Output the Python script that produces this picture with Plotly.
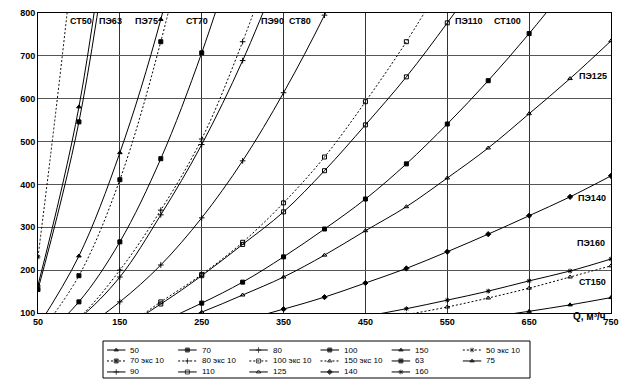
import plotly.graph_objects as go

# ---- data (Q, m3/h  ->  head loss) ----
q_st50 = [50, 100, 150]
h_st50 = [165, 581, 1250]
q_st70 = [50, 100, 150, 200, 250, 300]
h_st70 = [33, 126, 266, 460, 707, 1000]
q_st80 = [50, 100, 150, 200, 250, 300, 350, 400, 450]
h_st80 = [15, 58, 126, 212, 322, 455, 614, 795, 1000]
q_st100 = [150, 200, 250, 300, 350, 400, 450, 500, 550, 600, 650, 700]
h_st100 = [46, 80, 123, 172, 231, 296, 366, 448, 541, 642, 752, 870]
q_st150 = [550, 600, 650, 700, 750]
h_st150 = [77, 90, 104, 119, 136]
q_st50e = [50, 100, 150]
h_st50e = [231, 1070, 2400]
q_st70e = [50, 100, 150, 200, 250]
h_st70e = [48, 187, 411, 733, 1140]
q_st80e = [50, 100, 150, 200, 250, 300, 350]
h_st80e = [22, 89, 200, 340, 506, 733, 1000]
q_st100e = [100, 150, 200, 250, 300, 350, 400, 450, 500, 550]
h_st100e = [25, 62, 126, 190, 265, 357, 464, 593, 733, 890]
q_st150e = [450, 500, 550, 600, 650, 700, 750]
h_st150e = [79, 96, 114, 135, 158, 184, 210]
q_pe63 = [50, 100, 150]
h_pe63 = [155, 546, 1160]
q_pe75 = [50, 100, 150, 200, 250]
h_pe75 = [69, 233, 474, 785, 1190]
q_pe90 = [50, 100, 150, 200, 250, 300, 350]
h_pe90 = [24, 87, 184, 329, 493, 689, 920]
q_pe110 = [100, 150, 200, 250, 300, 350, 400, 450, 500, 550, 600]
h_pe110 = [27, 63, 121, 187, 260, 336, 432, 539, 651, 777, 910]
q_pe125 = [150, 200, 250, 300, 350, 400, 450, 500, 550, 600, 650, 700, 750]
h_pe125 = [40, 68, 102, 142, 184, 235, 292, 348, 415, 485, 565, 647, 735]
q_pe140 = [250, 300, 350, 400, 450, 500, 550, 600, 650, 700, 750]
h_pe140 = [60, 83, 109, 137, 170, 204, 243, 284, 327, 371, 420]
q_pe160 = [400, 450, 500, 550, 600, 650, 700, 750]
h_pe160 = [73, 92, 110, 130, 151, 175, 198, 226]

x_ticks = [50, 150, 250, 350, 450, 550, 650, 750]
y_ticks = [100, 200, 300, 400, 500, 600, 700, 800]

DOT = "2px,2px"
# legend order: name, q, h, dash, symbol
series = [
    ("50", q_st50, h_st50, "solid", "triangle-up"),
    ("70", q_st70, h_st70, "solid", "square"),
    ("80", q_st80, h_st80, "solid", "cross-thin"),
    ("100", q_st100, h_st100, "solid", "square"),
    ("150", q_st150, h_st150, "solid", "triangle-up"),
    ("50 экс 10", q_st50e, h_st50e, DOT, "asterisk"),
    ("70 экс 10", q_st70e, h_st70e, DOT, "square"),
    ("80 экс 10", q_st80e, h_st80e, DOT, "cross-thin"),
    ("100 экс 10", q_st100e, h_st100e, DOT, "square-open"),
    ("150 экс 10", q_st150e, h_st150e, DOT, "triangle-up-open"),
    ("63", q_pe63, h_pe63, "solid", "square"),
    ("75", q_pe75, h_pe75, "solid", "triangle-up"),
    ("90", q_pe90, h_pe90, "solid", "cross-thin"),
    ("110", q_pe110, h_pe110, "solid", "square-open"),
    ("125", q_pe125, h_pe125, "solid", "triangle-up-open"),
    ("140", q_pe140, h_pe140, "solid", "diamond"),
    ("160", q_pe160, h_pe160, "solid", "asterisk"),
]

curve_labels = [
    ("СТ50", 103, 782), ("ПЭ63", 138, 782), ("ПЭ75", 183, 782), ("СТ70", 244, 782),
    ("ПЭ90", 337, 782), ("СТ80", 370, 782), ("ПЭ110", 576, 782), ("СТ100", 624, 782),
    ("ПЭ125", 728, 654), ("ПЭ140", 727, 369), ("ПЭ160", 726, 263), ("СТ150", 728, 172),
]

FONT = "Liberation Sans, Arial, sans-serif"
OFF = 8  # page body margin of the browser
W, H = 638 - OFF, 386 - OFF
ML, MR, MT, MB = 38 - OFF, 27, 13 - OFF, 8
PW, PH = W - ML - MR, H - MT - MB


def px_x(p):  # p: pixel in the 638x386 window
    return (p - OFF - ML) / PW


def px_y(p):
    return (H - MB - (p - OFF)) / PH


fig = go.Figure()
for name, q, h, dash, sym in series:
    fig.add_trace(go.Scatter(
        x=q, y=h, name=name, mode="lines+markers", showlegend=False,
        line=dict(color="black", width=1, dash=dash, shape="spline", smoothing=1.0),
        marker=dict(symbol=sym, size=4, color="black", line=dict(color="black", width=1)),
        xaxis="x", yaxis="y",
    ))

# custom legend (6 columns x 3 rows) drawn in an auxiliary hidden subplot
row_y = [2.27, 1.38, 0.49]
for i, (name, q, h, dash, sym) in enumerate(series):
    c, r = i % 6, i // 6
    x0 = c + 0.056
    fig.add_trace(go.Scatter(
        x=[x0, x0 + 0.13, x0 + 0.26], y=[row_y[r]] * 3, mode="lines+markers",
        showlegend=False, hoverinfo="skip",
        line=dict(color="black", width=1, dash=dash),
        marker=dict(symbol=sym, size=[0, 4, 0], color="black", line=dict(color="black", width=1)),
        xaxis="x2", yaxis="y2",
    ))
    fig.add_annotation(x=x0 + 0.30, y=row_y[r], xref="x2", yref="y2", text=name,
                       showarrow=False, xanchor="left", yanchor="middle",
                       font=dict(family=FONT, size=8, color="black"))

fig.add_shape(type="rect", xref="x2 domain", yref="y2 domain", x0=0, x1=1, y0=0, y1=1,
              line=dict(color="black", width=1))

for txt, qx, hy in curve_labels:
    fig.add_annotation(x=qx, y=hy, text=f"<b>{txt}</b>", showarrow=False,
                       font=dict(family=FONT, size=9, color="black"),
                       xanchor="center", yanchor="middle")

fig.add_annotation(x=1, y=0, xref="x domain", yref="y domain", text="<b>Q, м³/ч</b>",
                   showarrow=False, xanchor="right", yanchor="middle", xshift=-3, yshift=-3,
                   font=dict(family=FONT, size=10, color="black"))

fig.update_layout(
    width=W, height=H,
    margin=dict(l=ML, r=MR, t=MT, b=MB),
    paper_bgcolor="white", plot_bgcolor="white",
    font=dict(family=FONT, size=9, color="black"),
    showlegend=False,
    xaxis=dict(domain=[0, 1], range=[50, 750], tickvals=x_ticks,
               ticktext=[f"<b>{v}</b>" for v in x_ticks],
               showgrid=True, gridcolor="#333", gridwidth=1, zeroline=False,
               showline=True, linecolor="black", mirror=True, ticks="",
               tickfont=dict(size=9, family=FONT), automargin=False, anchor="y"),
    yaxis=dict(domain=[px_y(313), 1], range=[100, 800], tickvals=y_ticks,
               ticktext=[f"<b>{v}</b>" for v in y_ticks],
               showgrid=True, gridcolor="#555", gridwidth=1, zeroline=False,
               showline=True, linecolor="black", mirror=True, ticks="",
               tickfont=dict(size=9, family=FONT), automargin=False, anchor="x"),
    xaxis2=dict(domain=[px_x(103), px_x(530)], range=[0, 6], visible=False,
                fixedrange=True, anchor="y2"),
    yaxis2=dict(domain=[px_y(378), px_y(341)], range=[0, 3], visible=False,
                fixedrange=True, anchor="x2"),
)

fig.write_html("out.html")
